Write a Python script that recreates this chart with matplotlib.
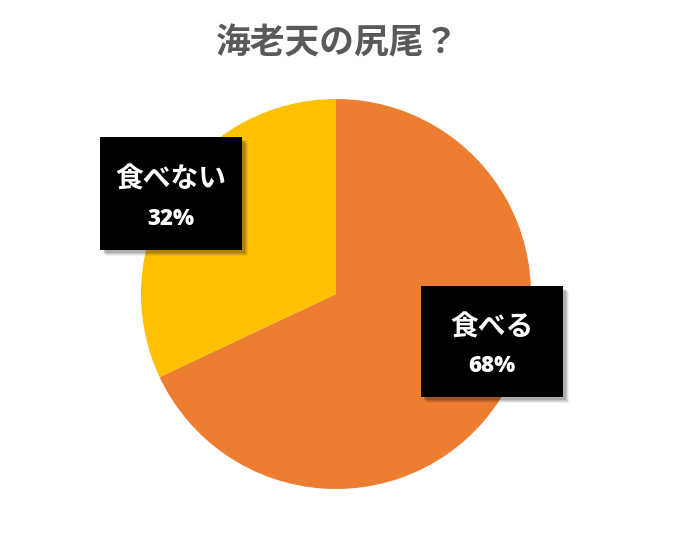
import matplotlib.pyplot as plt
from matplotlib.patches import Rectangle

plt.rcParams['font.family'] = ['Noto Sans CJK JP', 'DejaVu Sans']

# data
labels = ["食べる", "食べない"]
values = [68, 32]
colors = ["#ED7D31", "#FFC000"]
title = "海老天の尻尾？"

W, H = 685, 541
fig = plt.figure(figsize=(W / 100, H / 100), dpi=100)

# pie axes: center (336, 294), radius 195 px
cx, cy, r = 336, 294, 195
ax = fig.add_axes([(cx - r) / W, (H - cy - r) / H, 2 * r / W, 2 * r / H])
ax.pie(values, colors=colors, startangle=90, counterclock=False,
       wedgeprops=dict(linewidth=0))
ax.set_aspect("equal")
ax.set_xlim(-1, 1)
ax.set_ylim(-1, 1)

fig.text(338 / W, 1 - 43 / H, title, ha="center", va="center",
         fontsize=25, fontweight="bold", color="#595959")


def label_box(x0, y0, x1, y1, name, pct, ty1, ty2):
    # soft shadow
    for k, a in [(6, 0.06), (5, 0.08), (4, 0.1), (3, 0.12)]:
        fig.add_artist(Rectangle(((x0 + k) / W, 1 - (y1 + k) / H), (x1 - x0) / W, (y1 - y0) / H,
                                 transform=fig.transFigure, facecolor="black", alpha=a,
                                 edgecolor="none"))
    fig.add_artist(Rectangle((x0 / W, 1 - y1 / H), (x1 - x0) / W, (y1 - y0) / H,
                             transform=fig.transFigure, facecolor="black", edgecolor="none"))
    xc = (x0 + x1) / 2
    fig.text(xc / W, 1 - ty1 / H, name, ha="center", va="center",
             fontsize=20, fontweight="bold", color="white")
    fig.text(xc / W, 1 - ty2 / H, pct, ha="center", va="center",
             fontsize=16, fontweight="heavy", color="white",
             family=["Open Sans", "DejaVu Sans"])


label_box(100, 137, 242, 250, labels[1], f"{values[1]}%", 180, 219)
label_box(421, 286, 563, 397, labels[0], f"{values[0]}%", 327, 366)

fig.savefig("out.png", dpi=100)
